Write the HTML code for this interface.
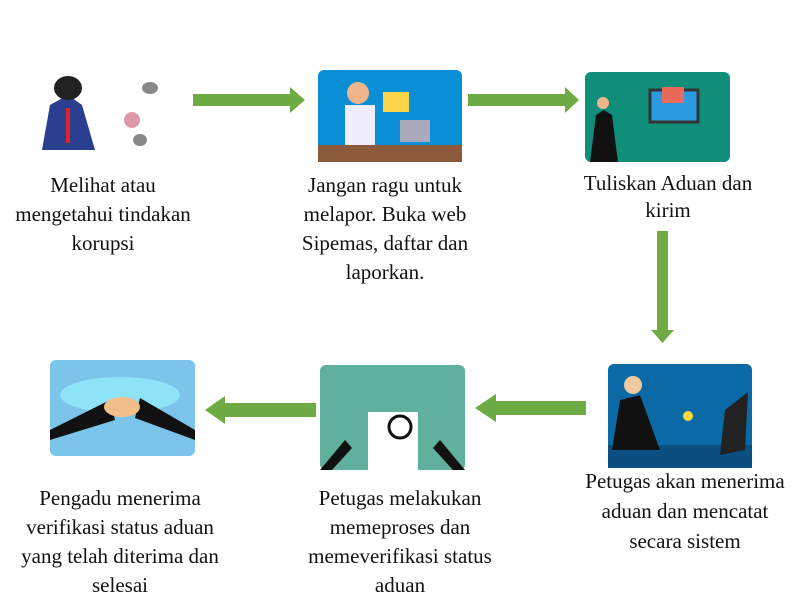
<!DOCTYPE html>
<html><head><meta charset="utf-8"><style>
body{margin:0;width:800px;height:600px;background:#fff;position:relative;overflow:hidden;font-family:"Liberation Serif",serif;}
.t{position:absolute;text-align:center;font-size:21px;line-height:29px;color:#111;white-space:nowrap}
</style></head><body>
<svg width="800" height="600" style="position:absolute;left:0;top:0">
<g fill="#6fab45">
<polygon points="193,94 290,94 290,87 305,100 290,113 290,106 193,106"/>
<polygon points="468,94 565,94 565,87 579,100 565,113 565,106 468,106"/>
<polygon points="657,231 668,231 668,330 674,330 662.5,343 651,330 657,330"/>
<polygon points="586,401 496,401 496,394 475,408 496,422 496,415 586,415"/>
<polygon points="316,403 225,403 225,396 205,410 225,424 225,417 316,417"/>
</g>
<g>
<rect x="40" y="78" width="120" height="72" fill="#fff"/>
<polygon points="42,150 50,105 68,95 82,105 95,150" fill="#2a3f8f"/>
<ellipse cx="68" cy="88" rx="14" ry="12" fill="#222"/>
<rect x="66" y="108" width="4" height="35" fill="#d22"/>
<ellipse cx="150" cy="88" rx="8" ry="6" fill="#888"/>
<ellipse cx="132" cy="120" rx="8" ry="8" fill="#d9a"/>
<ellipse cx="140" cy="140" rx="7" ry="6" fill="#888"/>
</g>
<rect x="318" y="70" width="144" height="92" rx="6" fill="#0a8fd6"/>
<rect x="318" y="145" width="144" height="17" fill="#8a5a3a"/>
<rect x="345" y="105" width="30" height="40" fill="#eef"/>
<circle cx="358" cy="93" r="11" fill="#f0b58a"/>
<rect x="383" y="92" width="26" height="20" fill="#fdd54a"/>
<rect x="400" y="120" width="30" height="22" fill="#aab"/>
<rect x="585" y="72" width="145" height="90" rx="6" fill="#0f8f7a"/>
<rect x="650" y="90" width="48" height="32" fill="#2a9be0" stroke="#333" stroke-width="3"/>
<rect x="662" y="87" width="22" height="16" fill="#e76a5a"/>
<polygon points="590,162 596,115 604,110 612,115 618,162" fill="#111"/>
<circle cx="603" cy="103" r="6" fill="#f0b58a"/>
<rect x="608" y="364" width="144" height="104" rx="6" fill="#0b6aa6"/>
<rect x="608" y="445" width="144" height="23" fill="#0a4f80"/>
<polygon points="612,450 620,400 640,395 660,450" fill="#111"/>
<circle cx="633" cy="385" r="9" fill="#f0c9a0"/>
<polygon points="725,410 748,392 745,450 720,455" fill="#222"/>
<circle cx="688" cy="416" r="5" fill="#ffd83a"/>
<rect x="320" y="365" width="145" height="105" rx="6" fill="#5fb09c"/>
<rect x="368" y="412" width="50" height="58" fill="#fff"/>
<circle cx="400" cy="427" r="11" fill="#fff" stroke="#111" stroke-width="3"/>
<polygon points="320,470 345,440 352,448 332,470" fill="#111"/>
<polygon points="465,470 440,440 433,448 453,470" fill="#111"/>
<rect x="50" y="360" width="145" height="96" rx="6" fill="#7cc4ea"/>
<ellipse cx="120" cy="395" rx="60" ry="18" fill="#8fe3f6"/>
<polygon points="50,430 110,400 115,420 50,440" fill="#111"/>
<polygon points="195,430 140,398 135,418 195,440" fill="#111"/>
<ellipse cx="122" cy="407" rx="18" ry="10" fill="#f2bf8a"/>
</svg>
<div class="t" style="left:3px;width:200px;top:171px">Melihat atau<br>mengetahui tindakan<br>korupsi</div>
<div class="t" style="left:285px;width:200px;top:171px">Jangan ragu untuk<br>melapor. Buka web<br>Sipemas, daftar dan<br>laporkan.</div>
<div class="t" style="left:568px;width:200px;top:170px;line-height:27px">Tuliskan Aduan dan<br>kirim</div>
<div class="t" style="left:567px;width:236px;top:466px;line-height:30px">Petugas akan menerima<br>aduan dan mencatat<br>secara sistem</div>
<div class="t" style="left:290px;width:220px;top:484px">Petugas melakukan<br>memeproses dan<br>memeverifikasi status<br>aduan</div>
<div class="t" style="left:0px;width:240px;top:484px">Pengadu menerima<br>verifikasi status aduan<br>yang telah diterima dan<br>selesai</div>
</body></html>
